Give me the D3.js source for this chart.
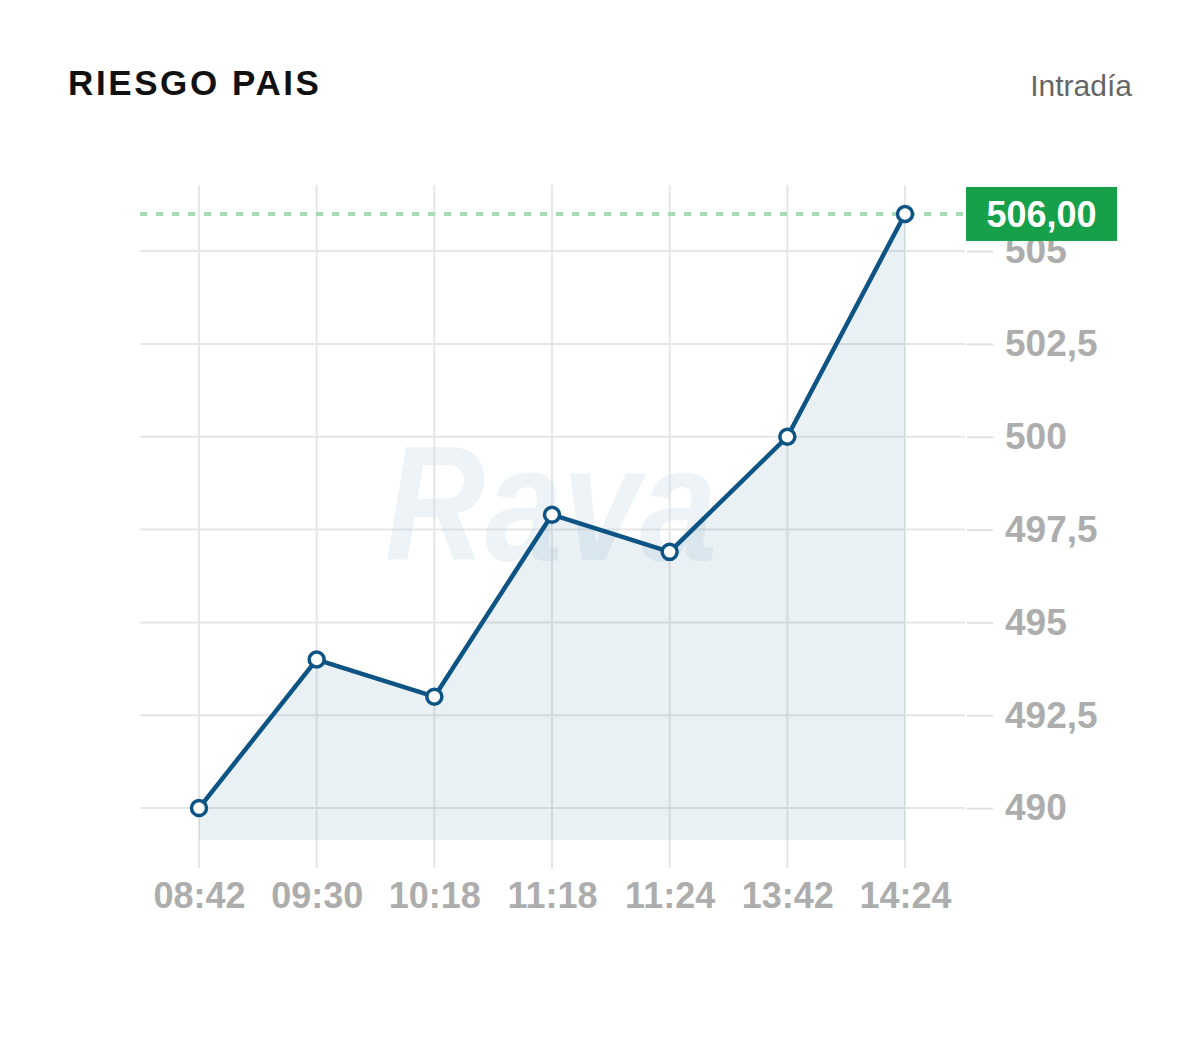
<!DOCTYPE html>
<html>
<head>
<meta charset="utf-8">
<script src="https://cdn.jsdelivr.net/npm/d3@7"></script>
<style>
  html, body { margin: 0; padding: 0; background: #fff; }
  svg { display: block; }
</style>
</head>
<body>
<div id="chart"></div>
<script>
// data
const times = ['08:42', '09:30', '10:18', '11:18', '11:24', '13:42', '14:24'];
const values = [490, 494, 493, 497.9, 496.9, 500, 506];
const yTicks = [490, 492.5, 495, 497.5, 500, 502.5, 505];
const title = 'RIESGO PAIS';
const period = 'Intradía';
const lastLabel = '506,00';

const width = 1200, height = 1048;
const plot = { left: 140, right: 965, top: 185, bottom: 840 };

const svg = d3.select('#chart').append('svg')
    .attr('width', width)
    .attr('height', height);

const xScale = d3.scalePoint()
    .domain(times)
    .range([199, 905]);

const yScale = d3.scaleLinear()
    .domain([489.14, 506.78])
    .range([plot.bottom, plot.top]);

const fmt = (v) => String(v).replace('.', ',');

// header
svg.append('text')
    .attr('x', 68).attr('y', 95)
    .attr('font-family', 'Liberation Sans, Arial, sans-serif')
    .attr('font-weight', 'bold')
    .attr('font-size', 35)
    .attr('letter-spacing', 2.6)
    .attr('fill', '#111')
    .text(title);

svg.append('text')
    .attr('x', 1132).attr('y', 96)
    .attr('text-anchor', 'end')
    .attr('font-family', 'Liberation Sans, Arial, sans-serif')
    .attr('font-size', 30)
    .attr('fill', '#666')
    .text(period);

// grid lines
const grid = svg.append('g').attr('stroke', '#e6e6e6').attr('stroke-width', 2);

grid.selectAll('.hgrid')
    .data(yTicks)
    .join('line')
    .attr('x1', plot.left).attr('x2', plot.right)
    .attr('y1', d => yScale(d)).attr('y2', d => yScale(d));

grid.selectAll('.vgrid')
    .data(times)
    .join('line')
    .attr('x1', d => xScale(d)).attr('x2', d => xScale(d))
    .attr('y1', plot.top).attr('y2', 868);

// right axis with ticks
const yAxis = d3.axisRight(yScale)
    .tickValues(yTicks)
    .tickSize(26)
    .tickPadding(12)
    .tickFormat(fmt);

svg.append('g')
    .attr('transform', `translate(${plot.right + 2},0)`)
    .call(yAxis)
    .call(g => g.select('.domain').remove())
    .call(g => g.selectAll('line').attr('stroke', '#e0e0e0').attr('stroke-width', 2))
    .call(g => g.selectAll('text')
        .attr('font-family', 'Liberation Sans, Arial, sans-serif')
        .attr('font-weight', 'bold')
        .attr('font-size', 37)
        .attr('fill', '#adadad'));

// bottom axis labels
const xAxis = d3.axisBottom(xScale).tickSize(0).tickPadding(0);

svg.append('g')
    .attr('transform', 'translate(0,880)')
    .call(xAxis)
    .call(g => g.select('.domain').remove())
    .call(g => g.selectAll('text')
        .attr('dy', '0.78em')
        .attr('font-family', 'Liberation Sans, Arial, sans-serif')
        .attr('font-weight', 'bold')
        .attr('font-size', 36)
        .attr('fill', '#adadad'));

// watermark
svg.append('text')
    .attr('x', 385).attr('y', 560)
    .attr('font-family', 'Liberation Sans, Arial, sans-serif')
    .attr('font-weight', 'bold')
    .attr('font-style', 'italic')
    .attr('font-size', 163)
    .attr('textLength', 332)
    .attr('lengthAdjust', 'spacingAndGlyphs')
    .attr('fill', '#b9cfe0')
    .attr('fill-opacity', 0.25)
    .text('Rava');

const series = times.map((t, i) => ({ t, v: values[i] }));

// area
const area = d3.area()
    .x(d => xScale(d.t))
    .y0(plot.bottom)
    .y1(d => yScale(d.v));

svg.append('path')
    .datum(series)
    .attr('d', area)
    .attr('fill', 'rgb(25,100,140)')
    .attr('fill-opacity', 0.09);

// last value dotted line
const lastY = yScale(values[values.length - 1]);
svg.append('line')
    .attr('x1', plot.left).attr('x2', plot.right)
    .attr('y1', lastY).attr('y2', lastY)
    .attr('stroke', '#a5dcb3')
    .attr('stroke-width', 4)
    .attr('stroke-dasharray', '7,9');

// line
const line = d3.line()
    .x(d => xScale(d.t))
    .y(d => yScale(d.v));

svg.append('path')
    .datum(series)
    .attr('d', line)
    .attr('fill', 'none')
    .attr('stroke', '#0d5484')
    .attr('stroke-width', 4.5)
    .attr('stroke-linejoin', 'round');

svg.append('g')
    .selectAll('circle')
    .data(series)
    .join('circle')
    .attr('cx', d => xScale(d.t))
    .attr('cy', d => yScale(d.v))
    .attr('r', 7.5)
    .attr('fill', '#fff')
    .attr('stroke', '#0d5484')
    .attr('stroke-width', 3.5);

// last value badge
const badge = svg.append('g').attr('transform', `translate(966,${lastY - 27})`);
badge.append('rect')
    .attr('width', 151).attr('height', 54)
    .attr('fill', '#16a049');
badge.append('text')
    .attr('x', 75.5).attr('y', 27)
    .attr('dy', '0.36em')
    .attr('text-anchor', 'middle')
    .attr('font-family', 'Liberation Sans, Arial, sans-serif')
    .attr('font-weight', 'bold')
    .attr('font-size', 36)
    .attr('fill', '#fff')
    .text(lastLabel);
</script>
</body>
</html>
